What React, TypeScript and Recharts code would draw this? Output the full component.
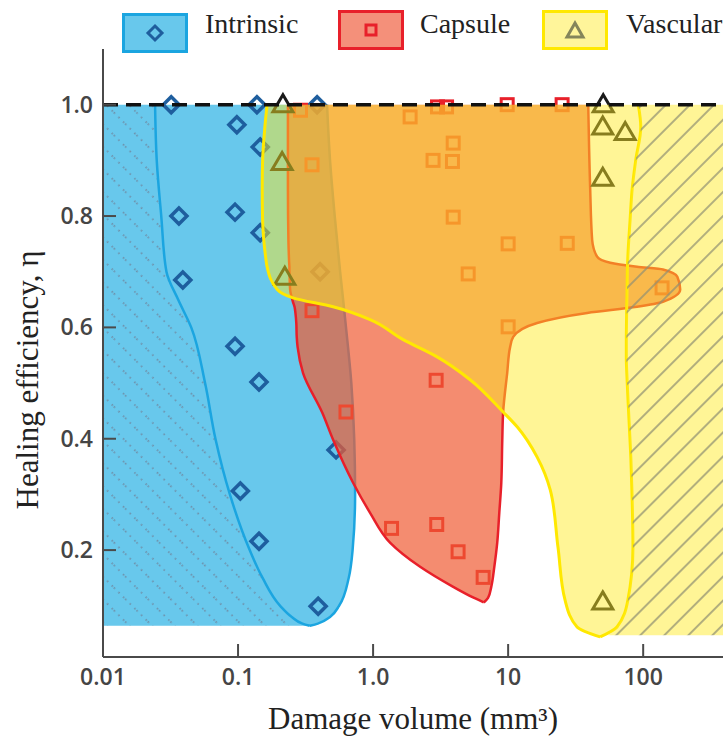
import React from 'react'
import { ComposedChart, Area, Scatter, XAxis, YAxis, ReferenceLine, Label } from 'recharts'

// axes
const xTicks = [0.01, 0.1, 1, 10, 100]
const xTickLabels = ['0.01', '0.1', '1.0', '10', '100']
const yTicks = [0.2, 0.4, 0.6, 0.8, 1.0]
const yTickLabels = ['0.2', '0.4', '0.6', '0.8', '1.0']
const xMin = 0.01
const xMax = 390

// Intrinsic envelope (healing efficiency -> left / right damage volume)
const intrinsicY = [1.0, 0.9, 0.8, 0.7, 0.65, 0.6, 0.5, 0.4, 0.3, 0.2, 0.15, 0.1, 0.08, 0.068, 0.064]
const intrinsicLeft = [0.0243, 0.025, 0.027, 0.0295, 0.036, 0.045, 0.057, 0.068, 0.087, 0.122, 0.152, 0.205, 0.25, 0.3, 0.34]
const intrinsicRight = [0.456, 0.48, 0.52, 0.57, 0.6, 0.63, 0.69, 0.725, 0.736, 0.705, 0.66, 0.56, 0.48, 0.39, 0.34]

// Capsule envelope
const capsuleY = [1.0, 0.85, 0.757, 0.727, 0.716, 0.709, 0.704, 0.691, 0.668, 0.646, 0.637, 0.626, 0.608, 0.583, 0.565, 0.518, 0.447, 0.398, 0.321, 0.267, 0.213, 0.17, 0.134, 0.114, 0.106]
const capsuleLeft = [0.234, 0.234, 0.236, 0.238, 0.239, 0.24, 0.24, 0.241, 0.243, 0.255, 0.262, 0.266, 0.27, 0.272, 0.276, 0.303, 0.42, 0.506, 0.711, 0.95, 1.34, 2.23, 3.92, 5.6, 6.6]
const capsuleRight = [39.2, 40.5, 41.9, 45.6, 57, 90, 140, 179, 188, 140, 90, 38.5, 16.4, 10.9, 10.35, 9.84, 9.18, 9.05, 8.9, 8.6, 8.3, 7.9, 7.5, 7.1, 6.6]

// Vascular envelope
const vascularY = [1.0, 0.96, 0.9, 0.85, 0.793, 0.727, 0.709, 0.668, 0.653, 0.637, 0.614, 0.578, 0.547, 0.506, 0.448, 0.421, 0.367, 0.308, 0.205, 0.11, 0.062, 0.044]
const vascularLeft = [0.164, 0.158, 0.152, 0.151, 0.152, 0.16, 0.164, 0.195, 0.255, 0.506, 0.95, 1.67, 2.98, 5.23, 9.18, 11.7, 16.4, 20.5, 23.4, 26.4, 32.4, 48]
const vascularRight = [92, 96, 88, 83, 80, 77, 76.5, 76, 75.8, 75.5, 75.3, 75, 75, 76, 78, 79, 81, 82.5, 84, 77, 64, 48]

// hatched zone right of the vascular envelope
const vascularHatchY = [1.0, 0.96, 0.9, 0.85, 0.793, 0.727, 0.668, 0.614, 0.547, 0.448, 0.367, 0.308, 0.205, 0.11, 0.062, 0.047]
const vascularHatchLeft = [92, 96, 88, 83, 80, 77, 76, 75.3, 75, 78, 81, 82.5, 84, 77, 64, 55]

// measured points
const intrinsicPoints = [
  { x: 0.032, y: 1.0 }, { x: 0.138, y: 1.0 }, { x: 0.385, y: 1.0 },
  { x: 0.098, y: 0.964 }, { x: 0.146, y: 0.924 }, { x: 0.0365, y: 0.8 },
  { x: 0.095, y: 0.807 }, { x: 0.146, y: 0.77 }, { x: 0.039, y: 0.685 },
  { x: 0.405, y: 0.7 }, { x: 0.095, y: 0.566 }, { x: 0.143, y: 0.502 },
  { x: 0.532, y: 0.38 }, { x: 0.104, y: 0.306 }, { x: 0.143, y: 0.216 },
  { x: 0.392, y: 0.099 },
]
const capsulePoints = [
  { x: 0.29, y: 0.99 }, { x: 3.0, y: 0.996 }, { x: 3.5, y: 0.996 },
  { x: 9.84, y: 1.0 }, { x: 25.1, y: 1.0 }, { x: 1.88, y: 0.978 },
  { x: 3.92, y: 0.931 }, { x: 2.78, y: 0.9 }, { x: 3.87, y: 0.898 },
  { x: 0.353, y: 0.892 }, { x: 3.92, y: 0.798 }, { x: 10, y: 0.75 },
  { x: 27.4, y: 0.751 }, { x: 5.06, y: 0.696 }, { x: 138, y: 0.671 },
  { x: 0.353, y: 0.63 }, { x: 10, y: 0.601 }, { x: 2.93, y: 0.505 },
  { x: 0.63, y: 0.448 }, { x: 1.37, y: 0.239 }, { x: 2.96, y: 0.246 },
  { x: 4.26, y: 0.197 }, { x: 6.53, y: 0.151 },
]
const vascularPoints = [
  { x: 0.215, y: 1.0 }, { x: 0.212, y: 0.896 }, { x: 0.222, y: 0.69 },
  { x: 50.6, y: 1.0 }, { x: 50.2, y: 0.96 }, { x: 73.6, y: 0.95 },
  { x: 50.2, y: 0.868 }, { x: 50.2, y: 0.107 },
]

const intrinsicFill = intrinsicY.map((y, i) => ({ y, x: [xMin, intrinsicRight[i]] }))
const intrinsicHatch = intrinsicY.map((y, i) => ({ y, x: [xMin, intrinsicLeft[i]] }))
const intrinsicBand = intrinsicY.map((y, i) => ({ y, x: [intrinsicLeft[i], intrinsicRight[i]] }))
const capsuleBand = capsuleY.map((y, i) => ({ y, x: [capsuleLeft[i], capsuleRight[i]] }))
const vascularBand = vascularY.map((y, i) => ({ y, x: [vascularLeft[i], vascularRight[i]] }))
const vascularHatch = vascularHatchY.map((y, i) => ({ y, x: [vascularHatchLeft[i], xMax] }))

const axisColor = '#4a4a4a'
const tickFont = { fontFamily: '"Open Sans", sans-serif', fontWeight: 600, fontSize: 23, fill: '#454545' }
const serif = '"Liberation Serif", "Times New Roman", serif'

const XTick = (props: any) => {
  const { x, y, payload } = props
  return (
    <g>
      <line x1={x} y1={y} x2={x} y2={y - 13} stroke={axisColor} strokeWidth={2} />
      <text x={x} y={y + 28} textAnchor="middle" {...tickFont}>
        {xTickLabels[xTicks.indexOf(payload.value)]}
      </text>
    </g>
  )
}

const YTick = (props: any) => {
  const { x, y, payload } = props
  return (
    <g>
      <line x1={x} y1={y} x2={x + 13} y2={y} stroke={axisColor} strokeWidth={2} />
      <text x={x - 10} y={y + 8} textAnchor="end" {...tickFont}>
        {yTickLabels[yTicks.indexOf(payload.value)]}
      </text>
    </g>
  )
}

const Diamond = ({ cx, cy }: any) => (
  <polygon points={`${cx},${cy - 8} ${cx + 8},${cy} ${cx},${cy + 8} ${cx - 8},${cy}`} fill="none" stroke="#1e5e9e" strokeWidth={3.5} />
)
const Square = ({ cx, cy }: any) => (
  <rect x={cx - 6} y={cy - 6} width={12} height={12} fill="none" stroke="#e8202a" strokeWidth={3} />
)
const Triangle = ({ cx, cy }: any) => (
  <polygon points={`${cx},${cy - 10} ${cx + 10},${cy + 7} ${cx - 10},${cy + 7}`} fill="none" stroke="#1a1a1a" strokeWidth={3} />
)

const legendItems = [
  { name: 'Intrinsic', left: 122, top: 13, fill: '#68c8ec', border: '#1ba5e0', textLeft: 205 },
  { name: 'Capsule', left: 338, top: 10, fill: '#f4907a', border: '#e8202a', textLeft: 420 },
  { name: 'Vascular', left: 542, top: 10, fill: '#fff59a', border: '#ffe800', textLeft: 626 },
]

const LegendMarker = ({ name }: { name: string }) => {
  if (name === 'Intrinsic')
    return <svg width={20} height={20}><polygon points="10,3 17,10 10,17 3,10" fill="none" stroke="#1e5e9e" strokeWidth={3} /></svg>
  if (name === 'Capsule')
    return <svg width={20} height={20}><rect x={5} y={5} width={10} height={10} fill="none" stroke="#e8202a" strokeWidth={3} /></svg>
  return <svg width={22} height={20}><polygon points="11,3 19,17 3,17" fill="none" stroke="#85855a" strokeWidth={3} /></svg>
}

export default function App() {
  return (
    <div style={{ position: 'absolute', left: 0, top: 0, width: 723, height: 739, overflow: 'hidden', background: '#fff' }}>
      <svg width={0} height={0} style={{ position: 'absolute' }}>
        <defs>
          <pattern id="blueHatch" patternUnits="userSpaceOnUse" width={16} height={16} patternTransform="rotate(-45)">
            <line x1={1} y1={0} x2={1} y2={16} stroke="#6f7f96" strokeWidth={1.4} strokeDasharray="1.5 5" />
          </pattern>
          <pattern id="yellowHatch" patternUnits="userSpaceOnUse" width={17} height={17} patternTransform="rotate(45)">
            <rect x={0} y={0} width={17} height={17} fill="rgba(255,234,36,0.48)" />
            <line x1={1} y1={0} x2={1} y2={17} stroke="#8f8f72" strokeWidth={1.4} />
          </pattern>
        </defs>
      </svg>

      {legendItems.map((item) => (
        <React.Fragment key={item.name}>
          <div
            style={{
              position: 'absolute', left: item.left, top: item.top, width: 60, height: 34,
              background: item.fill, border: `3px solid ${item.border}`,
              display: 'flex', alignItems: 'center', justifyContent: 'center',
            }}
          >
            <LegendMarker name={item.name} />
          </div>
          <div style={{ position: 'absolute', left: item.textLeft, top: 8, fontFamily: serif, fontSize: 28, color: '#222', whiteSpace: 'nowrap' }}>
            {item.name}
          </div>
        </React.Fragment>
      ))}

      <ComposedChart
        width={723}
        height={739}
        layout="vertical"
        margin={{ top: 49, right: 0, left: 0, bottom: 0 }}
        style={{ position: 'absolute', left: 0, top: 0 }}
      >
        <XAxis
          type="number"
          dataKey="x"
          scale="log"
          domain={[xMin, xMax]}
          allowDataOverflow
          ticks={xTicks}
          interval={0}
          height={82}
          tickSize={0}
          tickMargin={0}
          tickLine={false}
          tick={<XTick />}
          axisLine={{ stroke: axisColor, strokeWidth: 2 }}
        >
          <Label
            content={({ viewBox }: any) => (
              <text x={viewBox.x + viewBox.width / 2} y={viewBox.y + 72} textAnchor="middle" fontFamily={serif} fontSize={31} fill="#222">
                Damage volume (mm³)
              </text>
            )}
          />
        </XAxis>
        <YAxis
          type="number"
          dataKey="y"
          domain={[0.008, 1.1]}
          allowDataOverflow
          reversed
          ticks={yTicks}
          interval={0}
          width={103}
          tickSize={0}
          tickMargin={0}
          tickLine={false}
          tick={<YTick />}
          axisLine={{ stroke: axisColor, strokeWidth: 2 }}
        >
          <Label
            content={() => (
              <text x={38} y={380} transform="rotate(-90, 38, 380)" textAnchor="middle" fontFamily={serif} fontSize={31} fill="#222">
                Healing efficiency, η
              </text>
            )}
          />
        </YAxis>

        <Area data={intrinsicFill} dataKey="x" type="monotone" fill="#68c8ec" fillOpacity={1} stroke="none" dot={false} activeDot={false} isAnimationActive={false} zIndex={101} />
        <Area data={intrinsicHatch} dataKey="x" type="monotone" fill="url(#blueHatch)" fillOpacity={1} stroke="none" dot={false} activeDot={false} isAnimationActive={false} zIndex={102} />
        <Area data={intrinsicBand} dataKey="x" type="monotone" fill="none" stroke="#1ba5e0" strokeWidth={2.5} dot={false} activeDot={false} isAnimationActive={false} zIndex={103} />
        <Scatter data={intrinsicPoints} shape={<Diamond />} isAnimationActive={false} zIndex={104} />
        <Scatter data={capsulePoints} shape={<Square />} isAnimationActive={false} zIndex={105} />
        <Area data={capsuleBand} dataKey="x" type="monotone" fill="rgb(239,91,51)" fillOpacity={0.7} stroke="#e8202a" strokeWidth={2.5} dot={false} activeDot={false} isAnimationActive={false} zIndex={106} />
        <Scatter data={vascularPoints} shape={<Triangle />} isAnimationActive={false} zIndex={107} />
        <Area data={vascularBand} dataKey="x" type="monotone" fill="rgb(255,234,36)" fillOpacity={0.48} stroke="#ffe800" strokeWidth={3} dot={false} activeDot={false} isAnimationActive={false} zIndex={108} />
        <Area data={vascularHatch} dataKey="x" type="monotone" fill="url(#yellowHatch)" fillOpacity={1} stroke="none" dot={false} activeDot={false} isAnimationActive={false} zIndex={109} />
        <ReferenceLine y={1} stroke="#111" strokeWidth={3.5} strokeDasharray="15 8" zIndex={450} />
      </ComposedChart>
    </div>
  )
}
